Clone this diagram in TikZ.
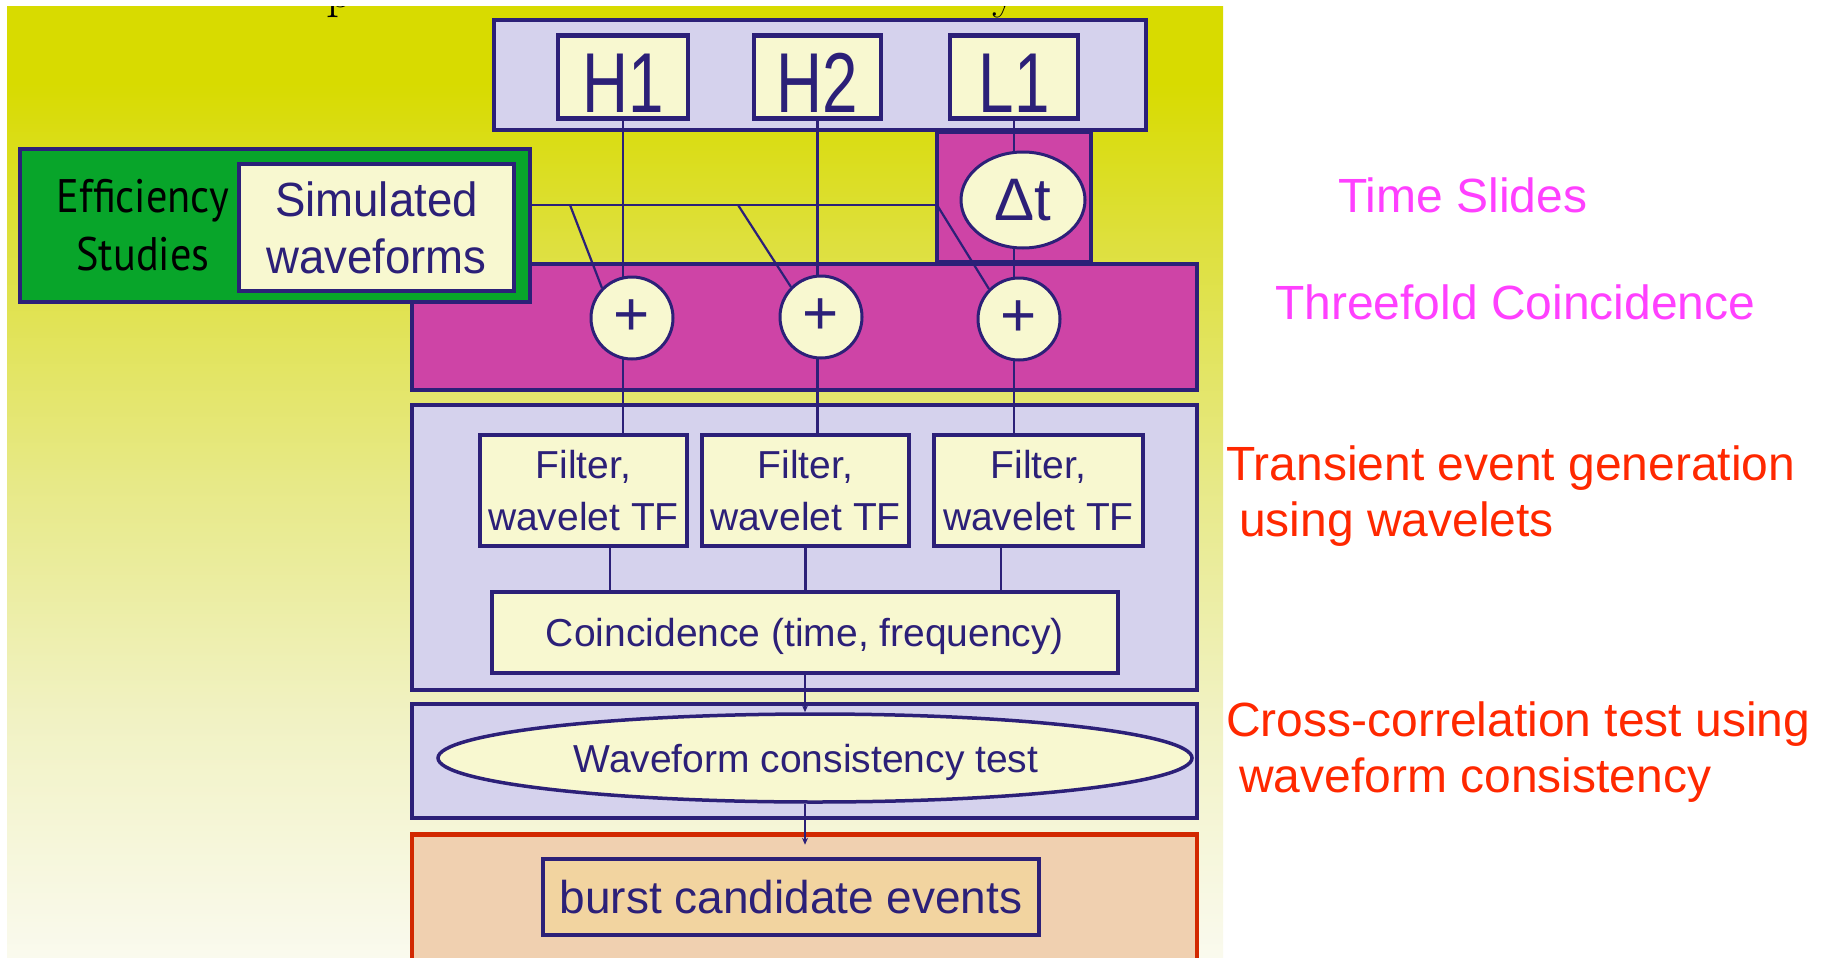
\documentclass[tikz,border=0pt]{standalone}
\usepackage{fontspec}
\newfontfamily\helv{Liberation Sans}
\newfontfamily\helvcond[FakeStretch=0.75]{Liberation Sans}
\newfontfamily\helvnarrow[FakeStretch=0.95]{Liberation Sans}
\newfontfamily\effont[FakeStretch=0.9]{PT Sans}
\usetikzlibrary{shapes.geometric,arrows.meta}
\newcommand{\setfs}[2]{\fontsize{#1}{#2}\selectfont}

% palette
\definecolor{navy}{RGB}{44,32,120}
\definecolor{lav}{RGB}{213,210,237}
\definecolor{cream}{RGB}{248,248,208}
\definecolor{mag}{RGB}{206,68,166}
\definecolor{effgreen}{RGB}{8,165,42}
\definecolor{peach}{RGB}{240,208,176}
\definecolor{burstfill}{RGB}{242,212,160}
\definecolor{burstred}{RGB}{210,40,0}
\definecolor{notemag}{RGB}{255,64,255}
\definecolor{notered}{RGB}{255,40,0}
\definecolor{bgA}{RGB}{250,250,238}
\definecolor{bgB}{RGB}{241,242,196}
\definecolor{bgC}{RGB}{231,233,135}
\definecolor{bgD}{RGB}{222,224,62}
\definecolor{bgE}{RGB}{216,219,0}

% slide background: pale at the bottom, saturated yellow at the top
\pgfdeclareverticalshading{slidebg}{100bp}{color(0bp)=(bgA); color(25bp)=(bgA); color(37.5bp)=(bgB); color(50bp)=(bgC); color(62.5bp)=(bgD); color(71bp)=(bgE); color(100bp)=(bgE)}

\pgfdeclarelayer{bg}
\pgfdeclarelayer{wires}
\pgfsetlayers{bg,wires,main}

\begin{document}
\begin{tikzpicture}[x=1pt,y=-1pt,
  lavpanel/.style={draw=navy, line width=4.5pt, fill=lav, inner sep=0pt},
  magpanel/.style={draw=navy, line width=4.5pt, fill=mag, inner sep=0pt},
  greenpanel/.style={draw=navy, line width=4.5pt, fill=effgreen, inner sep=0pt},
  burstpanel/.style={draw=burstred, line width=4.5pt, fill=peach, inner sep=0pt},
  cbox/.style={draw=navy, line width=4.5pt, fill=cream, inner sep=0pt, text=navy, align=center},
  roundnode/.style={draw=navy, line width=3pt, fill=cream, inner sep=0pt, text=navy},
  link/.style={draw=navy, line width=2.2pt},
  flowarrow/.style={link, -{Stealth[length=7pt,width=6pt]}},
  notetext/.style={anchor=base west, inner sep=0pt, font=\helv\setfs{48}{56}},
]
\useasboundingbox (0,0) rectangle (1828,958);

\begin{pgfonlayer}{bg}
  \fill[white] (0,0) rectangle (1828,958);
  \shade[shading=slidebg] (7,7) rectangle (1223,958);
  % descenders of the slide title, cut off by the top edge
  \begin{scope}
    \clip (7,7) rectangle (1223,958);
    \node[anchor=base west, inner sep=0pt, font=\rmfamily\setfs{52}{52}] (titlep) at (326,8) {p};
    \node[anchor=base west, inner sep=0pt, font=\rmfamily\setfs{52}{52}] (titley) at (992,8) {y};
  \end{scope}
  % stage panels
  \node[magpanel, minimum width=154pt, minimum height=130pt] (tscol) at (1014,197) {};
  \node[magpanel, minimum width=785pt, minimum height=126pt] (band) at (804.5,327) {};
  \node[lavpanel, minimum width=652pt, minimum height=110pt] (det) at (820,75) {};
  \node[greenpanel, minimum width=510pt, minimum height=153pt] (eff) at (275,225.5) {};
  \node[lavpanel, minimum width=785pt, minimum height=285pt] (trans) at (804.5,547.5) {};
  \node[lavpanel, minimum width=785pt, minimum height=114pt] (xcorr) at (804.5,761) {};
  \node[burstpanel, minimum width=785pt, minimum height=160pt, anchor=north] (out) at (804.5,832) {};
\end{pgfonlayer}

% detectors
\node[cbox, minimum width=130pt, minimum height=83pt, font=\helvcond\setfs{85}{85}, text height=71pt, text depth=0pt] (h1) at (623,77) {H1};
\node[cbox, minimum width=127pt, minimum height=83pt, font=\helvcond\setfs{85}{85}, text height=71pt, text depth=0pt] (h2) at (817.5,77) {H2};
\node[cbox, minimum width=128pt, minimum height=83pt, font=\helvcond\setfs{85}{85}, text height=71pt, text depth=0pt] (l1) at (1014,77) {L1};

% time shift and injection sums
\node[roundnode, ellipse, minimum width=124pt, minimum height=96pt, font=\helv\setfs{60}{60}] (dt) at (1023,200) {Δt};
\node[roundnode, circle, minimum size=82pt, font=\helv\setfs{62}{62}] (c1) at (632,318) {+};
\node[roundnode, circle, minimum size=82pt, font=\helv\setfs{62}{62}] (c2) at (821,317) {+};
\node[roundnode, circle, minimum size=82pt, font=\helv\setfs{62}{62}] (c3) at (1019,319) {+};

% efficiency studies
\node[cbox, minimum width=275pt, minimum height=127pt, font=\helvnarrow\setfs{48}{57}] (sim) at (376.5,227.5) {Simulated\\waveforms};
\node[text=black, font=\effont\setfs{47}{58}, align=center, inner sep=0pt] (efftext) at (143,225) {Efficiency\\Studies};

% event generation
\node[cbox, minimum width=207pt, minimum height=111pt, font=\helv\setfs{39}{52}] (f1) at (583.5,490.5) {Filter,\\wavelet TF};
\node[cbox, minimum width=207pt, minimum height=111pt, font=\helv\setfs{39}{52}] (f2) at (805.5,490.5) {Filter,\\wavelet TF};
\node[cbox, minimum width=209pt, minimum height=111pt, font=\helv\setfs{39}{52}] (f3) at (1038.5,490.5) {Filter,\\wavelet TF};
\node[cbox, minimum width=626pt, minimum height=81pt, font=\helv\setfs{39}{39}, text depth=0pt] (coinc) at (805,632.5) {Coincidence (time, frequency)};

% consistency test and output
\node[roundnode, ellipse, minimum width=754pt, minimum height=88pt, line width=3.5pt,
      label={[xshift=-9pt, inner sep=0pt, text=navy, font=\helv\setfs{39}{39}, text depth=0pt]center:Waveform consistency test}] (wf) at (815,758) {};
\node[cbox, fill=burstfill, minimum width=496pt, minimum height=76pt, font=\helv\setfs{46}{46}] (burst) at (791,897) {burst candidate events};

% side notes
\node[notetext, text=notemag] (tslides) at (1338,212) {Time Slides};
\node[notetext, text=notemag] (three) at (1275,319) {Threefold Coincidence};
\node[notetext, text=notered] (tegenA) at (1226,480) {Transient event generation};
\node[notetext, text=notered] (tegenB) at (1239,536) {using wavelets};
\node[notetext, text=notered] (xcA) at (1226,736) {Cross-correlation test using};
\node[notetext, text=notered] (xcB) at (1239,792) {waveform consistency};

% connections
\begin{pgfonlayer}{wires}
  \coordinate (wsrc) at (532,205);
  \coordinate (wsink) at (937,205);
  \coordinate (tap1) at (570,205);
  \coordinate (tap2) at (738,205);
  \draw[link] (wsrc) -- (wsink);
  \draw[link] (tap1) -- (c1.135);
  \draw[link] (tap2) -- (c2.135);
  \draw[link] (wsink) -- (c3.135);
  \draw[link] (h1.south) -- (h1.south |- f1.north);
  \draw[link] (h2.south) -- (h2.south |- f2.north);
  \draw[link] (l1.south) -- (l1.south |- f3.north);
  \draw[link] ([xshift=26.5pt]f1.south) -- ([xshift=26.5pt]f1.south |- coinc.north);
  \draw[link] (f2.south) -- (f2.south |- coinc.north);
  \draw[link] ([xshift=-37.5pt]f3.south) -- ([xshift=-37.5pt]f3.south |- coinc.north);
  \draw[flowarrow] (coinc.south) -- (coinc.south |- wf.north);
  \draw[flowarrow] (wf.south -| coinc.south) -- ([yshift=12pt]burst.north -| coinc.south);
\end{pgfonlayer}
\end{tikzpicture}
\end{document}
